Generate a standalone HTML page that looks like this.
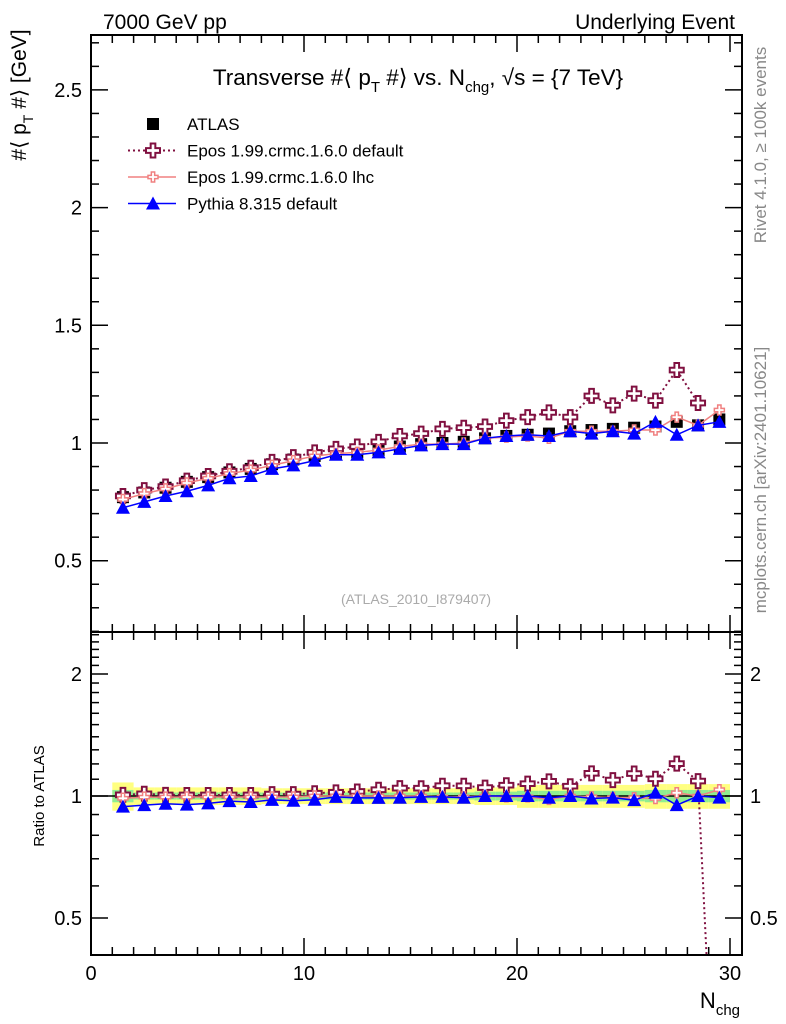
<!DOCTYPE html>
<html><head><meta charset="utf-8"><style>
html,body{margin:0;background:#fff;overflow:hidden;width:786px;height:1024px}
svg{display:block;font-family:"Liberation Sans",sans-serif}
</style></head><body>
<svg id="c" width="786" height="1024" xmlns="http://www.w3.org/2000/svg">
<text x="103" y="29" font-size="21">7000 GeV pp</text>
<text x="735" y="29" font-size="21" text-anchor="end">Underlying Event</text>
<text x="418" y="85" font-size="22.5" text-anchor="middle">Transverse #⟨ p<tspan font-size="15" dy="7">T</tspan><tspan dy="-7"> #⟩ vs. N</tspan><tspan font-size="15" dy="7">chg</tspan><tspan dy="-7">, √s = {7 TeV}</tspan></text>
<text transform="translate(26,95) rotate(-90)" font-size="21" text-anchor="middle">#⟨ p<tspan font-size="14" dy="7">T</tspan><tspan dy="-7"> #⟩ [GeV]</tspan></text>
<text transform="translate(44,796) rotate(-90)" font-size="15" text-anchor="middle">Ratio to ATLAS</text>
<text x="740" y="1008" font-size="22" text-anchor="end">N<tspan font-size="15" dy="7">chg</tspan></text>
<text transform="translate(766,145) rotate(-90)" font-size="17" fill="#888" text-anchor="middle">Rivet 4.1.0, ≥ 100k events</text>
<text transform="translate(766,480) rotate(-90)" font-size="17" fill="#888" text-anchor="middle">mcplots.cern.ch [arXiv:2401.10621]</text>
<text x="416" y="604" font-size="14" fill="#aaa" text-anchor="middle">(ATLAS_2010_I879407)</text>
<g id="g"></g>
</svg>
<script>
const xs=[1.5,2.5,3.5,4.5,5.5,6.5,7.5,8.5,9.5,10.5,11.5,12.5,13.5,14.5,15.5,16.5,17.5,18.5,19.5,20.5,21.5,22.5,23.5,24.5,25.5,26.5,27.5,28.5,29.5];
const atlas=[0.77,0.79,0.81,0.835,0.855,0.875,0.89,0.91,0.93,0.945,0.955,0.96,0.97,0.985,0.995,1.0,1.005,1.02,1.03,1.035,1.04,1.05,1.055,1.06,1.065,1.07,1.09,1.075,1.1];
const eposDef=[0.775,0.8,0.815,0.84,0.86,0.88,0.895,0.92,0.94,0.96,0.975,0.985,1.005,1.03,1.04,1.06,1.065,1.07,1.095,1.11,1.13,1.11,1.2,1.16,1.21,1.18,1.31,1.17,0.1];
const eposLhc=[0.76,0.785,0.805,0.83,0.85,0.87,0.885,0.905,0.925,0.945,0.955,0.96,0.97,0.985,0.995,0.995,1.0,1.02,1.025,1.03,1.02,1.05,1.05,1.05,1.055,1.055,1.11,1.075,1.14];
const pythia=[0.725,0.75,0.775,0.795,0.82,0.85,0.86,0.89,0.905,0.925,0.95,0.95,0.96,0.975,0.99,0.995,0.995,1.02,1.03,1.035,1.03,1.05,1.04,1.05,1.04,1.09,1.035,1.075,1.09];
const bandY=[0.08,0.05,0.05,0.05,0.05,0.05,0.05,0.045,0.045,0.045,0.045,0.045,0.045,0.045,0.045,0.045,0.045,0.05,0.05,0.065,0.065,0.065,0.065,0.065,0.065,0.07,0.07,0.07,0.07];
const bandG=[0.035,0.02,0.02,0.02,0.02,0.02,0.02,0.02,0.02,0.02,0.02,0.02,0.02,0.02,0.02,0.02,0.02,0.025,0.025,0.03,0.03,0.03,0.03,0.03,0.03,0.035,0.035,0.035,0.035];
const yTicks=[0.5,1,1.5,2,2.5];
const rTicks=[0.5,1,2];
const xTicks=[0,10,20,30];
const L=91,R=742,T=35,M=632,B=955;
const X=v=>L+21.3*v;
const Y=v=>443-(v-1)*235.4;
const RY=r=>796-122*Math.log2(r);
const NS='http://www.w3.org/2000/svg';
const g=document.getElementById('g');
function mk(t,a,p){const e=document.createElementNS(NS,t);for(const k in a)e.setAttribute(k,a[k]);(p||g).appendChild(e);return e;}
const defs=mk('defs',{});
const c1=mk('clipPath',{id:'cm'},defs);mk('rect',{x:L,y:T,width:R-L,height:M-T},c1);
const c2=mk('clipPath',{id:'cr'},defs);mk('rect',{x:L,y:M,width:R-L,height:B-M},c2);
const bg=mk('g',{'clip-path':'url(#cr)'});


xs.forEach((x,i)=>{
 mk('rect',{x:X(x-0.5),y:RY(1+bandY[i]),width:21.3,height:RY(1-bandY[i])-RY(1+bandY[i]),fill:'#ffff80'},bg);
 mk('rect',{x:X(x-0.5),y:RY(1+bandG[i]),width:21.3,height:RY(1-bandG[i])-RY(1+bandG[i]),fill:'#90ee90'},bg);
});
mk('line',{x1:L,x2:R,y1:RY(1),y2:RY(1),stroke:'#000','stroke-width':1.5});
mk('rect',{x:L,y:T,width:R-L,height:M-T,fill:'none',stroke:'#000','stroke-width':2});
mk('rect',{x:L,y:M,width:R-L,height:B-M,fill:'none',stroke:'#000','stroke-width':2});
for(let v=0;v<=30;v++){const big=v%10==0,len=big?17:8;
 [[T,1],[M,-1],[M,1],[B,-1]].forEach(([y,d])=>mk('line',{x1:X(v),x2:X(v),y1:y,y2:y+d*len,stroke:'#000','stroke-width':1.5}));}
for(let v=0.2;v<=2.75;v+=0.1){const vv=Math.round(v*10)/10,big=Math.abs(vv*2-Math.round(vv*2))<1e-6,len=big?17:8;const y=Y(vv);if(y<T||y>M)continue;
 mk('line',{x1:L,x2:L+len,y1:y,y2:y,stroke:'#000','stroke-width':1.5});mk('line',{x1:R,x2:R-len,y1:y,y2:y,stroke:'#000','stroke-width':1.5});}
[0.5,0.6,0.7,0.8,0.9,1,1.1,1.2,1.3,1.4,1.5,1.6,1.7,1.8,1.9,2,2.1,2.2,2.3,2.4,2.5].forEach(r=>{const big=rTicks.includes(r),len=big?17:8,y=RY(r);
 mk('line',{x1:L,x2:L+len,y1:y,y2:y,stroke:'#000','stroke-width':1.5});mk('line',{x1:R,x2:R-len,y1:y,y2:y,stroke:'#000','stroke-width':1.5});});
yTicks.forEach(v=>{const t=mk('text',{x:82,y:Y(v)+7,'font-size':20,'text-anchor':'end'});t.textContent=String(v);
 
 });
rTicks.forEach(v=>{[[82,'end'],[750,'start']].forEach(([x,a])=>{const t=mk('text',{x:x,y:RY(v)+7,'font-size':20,'text-anchor':a});t.textContent=String(v);
 
 });});
xTicks.forEach(v=>{const t=mk('text',{x:X(v),y:980,'font-size':20,'text-anchor':'middle'});t.textContent=String(v);
 
 });
function cross(p,x,y,s,stroke,sw){const a=s/3,b=s;
 return mk('path',{d:`M${x-a},${y-b}h${2*a}v${b-a}h${b-a}v${2*a}h${-(b-a)}v${b-a}h${-2*a}v${-(b-a)}h${-(b-a)}v${-2*a}h${b-a}z`,fill:'#fff',stroke:stroke,'stroke-width':sw},p);}
function series(vals,ratio,name,color,dash,marker,clip){
 const gg=mk('g',{'clip-path':clip});
 
 
 const fy=ratio?(v,i)=>RY(v/atlas[i]):(v)=>Y(v);
 const idx=xs.map((x,i)=>i).filter(i=>ratio||vals[i]>0.2);
 if(color){mk('polyline',{points:idx.map(i=>X(xs[i])+','+fy(vals[i],i)).join(' '),fill:'none',stroke:color,'stroke-width':dash?2:1.5,'stroke-dasharray':dash||'none'},gg);}
 idx.forEach(i=>{const px=X(xs[i]),py=fy(vals[i],i);
  if(marker=='sq')mk('rect',{x:px-6,y:py-6,width:12,height:12,fill:'#000'},gg);
  else if(marker=='tri')mk('path',{d:`M${px},${py-7}L${px+7},${py+6}L${px-7},${py+6}Z`,fill:'#00f'},gg);
  else if(marker=='cross')cross(gg,px,py,7,'#801040',2);
  else if(marker=='scross')cross(gg,px,py,5,'#f08080',1.5);
 });}
series(atlas,false,'atlas-data',null,null,'sq','url(#cm)');
series(eposDef,false,'epos-default-series','#801040','2,3','cross','url(#cm)');
series(eposLhc,false,'epos-lhc-series','#f08080',null,'scross','url(#cm)');
series(pythia,false,'pythia-series','#0000ff',null,'tri','url(#cm)');
series(eposDef,true,'epos-default-ratio','#801040','2,3','cross','url(#cr)');
series(eposLhc,true,'epos-lhc-ratio','#f08080',null,'scross','url(#cr)');
series(pythia,true,'pythia-ratio','#0000ff',null,'tri','url(#cr)');
const lg=mk('g',{});


const labs=['ATLAS','Epos 1.99.crmc.1.6.0 default','Epos 1.99.crmc.1.6.0 lhc','Pythia 8.315 default'];
labs.forEach((s,i)=>{const y=124+i*26.5;
 const t=mk('text',{x:187,y:y+6,'font-size':17},lg);t.textContent=s;
 
 
 if(i==0)mk('rect',{x:147,y:y-6,width:12,height:12,fill:'#000'},lg);
 if(i==1){mk('line',{x1:128,x2:176,y1:y,y2:y,stroke:'#801040','stroke-width':2,'stroke-dasharray':'2,3'},lg);cross(lg,153,y,7,'#801040',2);}
 if(i==2){mk('line',{x1:128,x2:176,y1:y,y2:y,stroke:'#f08080','stroke-width':1.5},lg);cross(lg,153,y,5,'#f08080',1.5);}
 if(i==3){mk('line',{x1:128,x2:176,y1:y,y2:y,stroke:'#00f','stroke-width':1.5},lg);mk('path',{d:`M153,${y-7}L160,${y+6}L146,${y+6}Z`,fill:'#00f'},lg);}
});
</script>
</body></html>
